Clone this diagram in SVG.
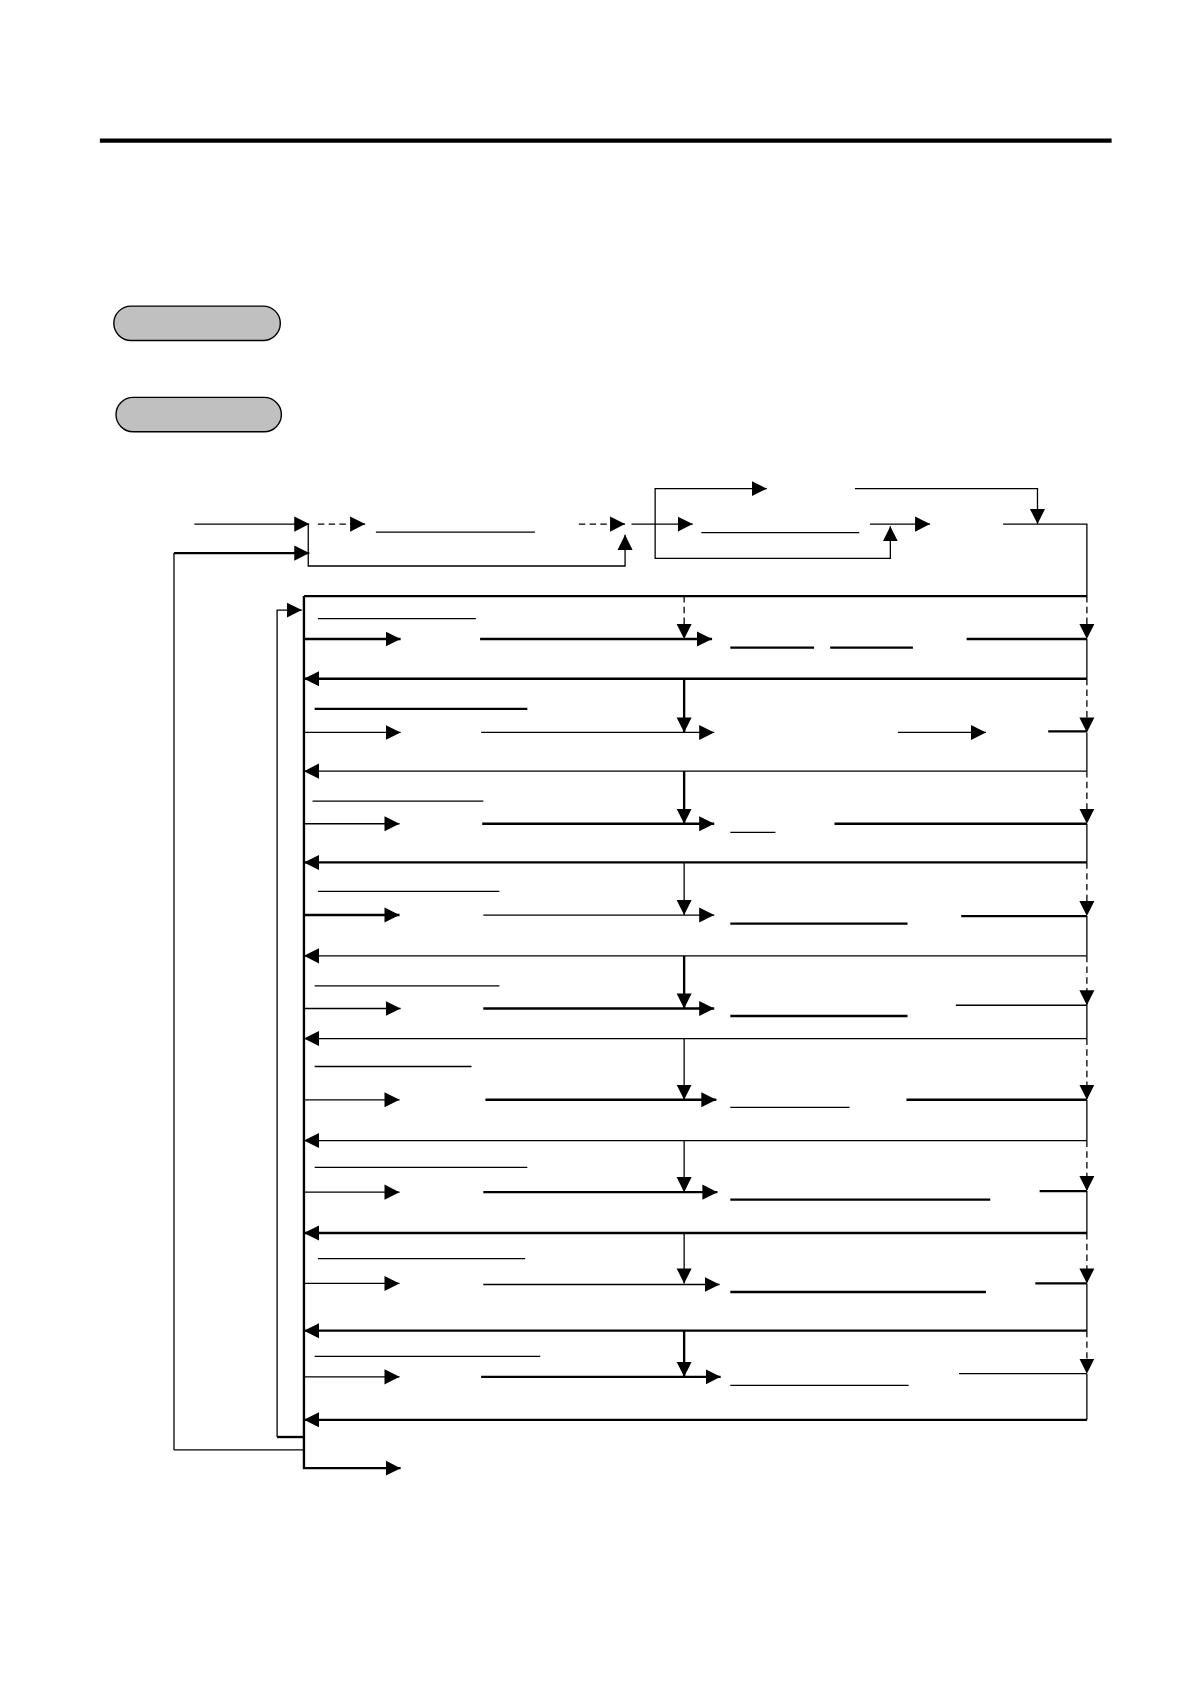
<svg xmlns="http://www.w3.org/2000/svg" width="1190" height="1684" viewBox="0 0 1190 1684">
<defs>
<marker id="ah" markerUnits="userSpaceOnUse" markerWidth="15" markerHeight="15" refX="14" refY="7.5" orient="auto" viewBox="0 0 15 15">
<path d="M0,0.5 L14,7.5 L0,14.5 z" fill="#000"/>
</marker>
<style>
.t{fill:none;stroke:#000;stroke-width:1.2}
.k{fill:none;stroke:#000;stroke-width:2.2}
.d{fill:none;stroke:#000;stroke-width:1.2;stroke-dasharray:6 4}
.a{marker-end:url(#ah)}
.pill{fill:#c0c0c0;stroke:#000;stroke-width:1.3}
</style>
</defs>
<rect width="1190" height="1684" fill="#fff"/>
<g transform="scale(1.074)">
<g id="header">
<line x1="93" y1="131" x2="1035" y2="131" stroke="#000" stroke-width="4"/>
</g>
<g id="pill1"><rect class="pill" x="106" y="285" width="155" height="32" rx="16"/></g>
<g id="pill2"><rect class="pill" x="108" y="370" width="154" height="32" rx="16"/></g>
<g id="underlines">
<path class="t" d="M350,495.5 H498"/>
<path class="t" d="M653,496 H800"/>
<path class="t" d="M296,576 H443"/>
<path class="k" d="M680,603 H758 M773,603 H850"/>
<path class="k" d="M293,660 H491"/>
<path class="t" d="M291,746 H450"/>
<path class="t" d="M680,775 H722"/>
<path class="t" d="M296,830 H465"/>
<path class="k" d="M680,860 H845"/>
<path class="t" d="M293,918 H465"/>
<path class="k" d="M680,946 H845"/>
<path class="t" d="M293,993 H439"/>
<path class="t" d="M680,1031 H791"/>
<path class="t" d="M293,1087 H491"/>
<path class="k" d="M680,1117 H922"/>
<path class="t" d="M296,1172 H489"/>
<path class="k" d="M680,1203 H918"/>
<path class="t" d="M293,1263 H503"/>
<path class="t" d="M680,1290 H846"/>
</g>
<g id="connectors">
<path class="t a" d="M181,488 H288"/>
<path class="d a" d="M296,488 H340"/>
<path class="d a" d="M539,488 H582"/>
<path class="t a" d="M588,488 H645"/>
<path class="t a" d="M810,488 H866"/>
<path class="t" d="M934,488 H1012 V555"/>
<path class="t a" d="M610,488 V455 H714"/>
<path class="t a" d="M796,455 H966 V488"/>
<path class="t a" d="M610,488 V520 H829 V490"/>
<path class="t a" d="M287,488 V527 H582 V498"/>
<path class="t" d="M162,1350 V515"/>
<path class="k a" d="M162,515 H288"/>
<path class="k" d="M283,555 H1012"/>
<path class="k a" d="M283,555 V1367 H373"/>
<path class="t" d="M162,1350 H283"/>
<path class="k" d="M283,1338 H258"/>
<path class="t a" d="M258,1338 V568 H281"/>
<path class="k a" d="M283,595 H373"/>
<path class="k a" d="M447,595 H663"/>
<path class="d a" d="M637,555 V595"/>
<path class="k" d="M900,595 H1012"/>
<path class="d a" d="M1012,555 V595"/>
<path class="t" d="M1012,595 V632"/>
<path class="k a" d="M1012,632 H283"/>
<path class="t a" d="M283,682 H373"/>
<path class="t a" d="M448,682 H665"/>
<path class="k a" d="M637,632 V682"/>
<path class="t a" d="M836,682 H918"/>
<path class="k" d="M976,681 H1012"/>
<path class="d a" d="M1012,632 V682"/>
<path class="t" d="M1012,682 V718"/>
<path class="t a" d="M1012,718 H283"/>
<path class="t a" d="M283,767 H372"/>
<path class="k a" d="M449,767 H665"/>
<path class="k a" d="M637,718 V767"/>
<path class="k" d="M777,767 H1012"/>
<path class="d a" d="M1012,718 V767"/>
<path class="t" d="M1012,767 V803"/>
<path class="k a" d="M1012,803 H283"/>
<path class="k a" d="M283,852 H372"/>
<path class="t a" d="M450,852 H665"/>
<path class="t a" d="M637,803 V852"/>
<path class="k" d="M895,853 H1012"/>
<path class="d a" d="M1012,803 V853"/>
<path class="t" d="M1012,853 V890"/>
<path class="t a" d="M1012,890 H283"/>
<path class="t a" d="M283,939 H373"/>
<path class="k a" d="M450,939 H665"/>
<path class="k a" d="M637,890 V939"/>
<path class="t" d="M890,936 H1012"/>
<path class="d a" d="M1012,890 V936"/>
<path class="t" d="M1012,936 V967"/>
<path class="t a" d="M1012,967 H283"/>
<path class="t a" d="M283,1024 H372"/>
<path class="k a" d="M452,1024 H667"/>
<path class="t a" d="M637,967 V1024"/>
<path class="k" d="M844,1024 H1012"/>
<path class="d a" d="M1012,967 V1024"/>
<path class="t" d="M1012,1024 V1062"/>
<path class="t a" d="M1012,1062 H283"/>
<path class="t a" d="M283,1110 H372"/>
<path class="k a" d="M450,1110 H668"/>
<path class="t a" d="M637,1062 V1110"/>
<path class="k" d="M968,1109 H1012"/>
<path class="d a" d="M1012,1062 V1109"/>
<path class="t" d="M1012,1109 V1148"/>
<path class="k a" d="M1012,1148 H283"/>
<path class="t a" d="M283,1195 H372"/>
<path class="t a" d="M450,1196 H670"/>
<path class="t a" d="M637,1148 V1195"/>
<path class="k" d="M964,1195 H1012"/>
<path class="d a" d="M1012,1148 V1195"/>
<path class="t" d="M1012,1195 V1239"/>
<path class="k a" d="M1012,1239 H283"/>
<path class="t a" d="M283,1282 H372"/>
<path class="k a" d="M448,1282 H671"/>
<path class="k a" d="M637,1239 V1282"/>
<path class="t" d="M893,1279 H1012"/>
<path class="d a" d="M1012,1239 V1279"/>
<path class="t" d="M1012,1279 V1322"/>
<path class="k a" d="M1012,1322 H283"/>
</g>
</g>
</svg>
